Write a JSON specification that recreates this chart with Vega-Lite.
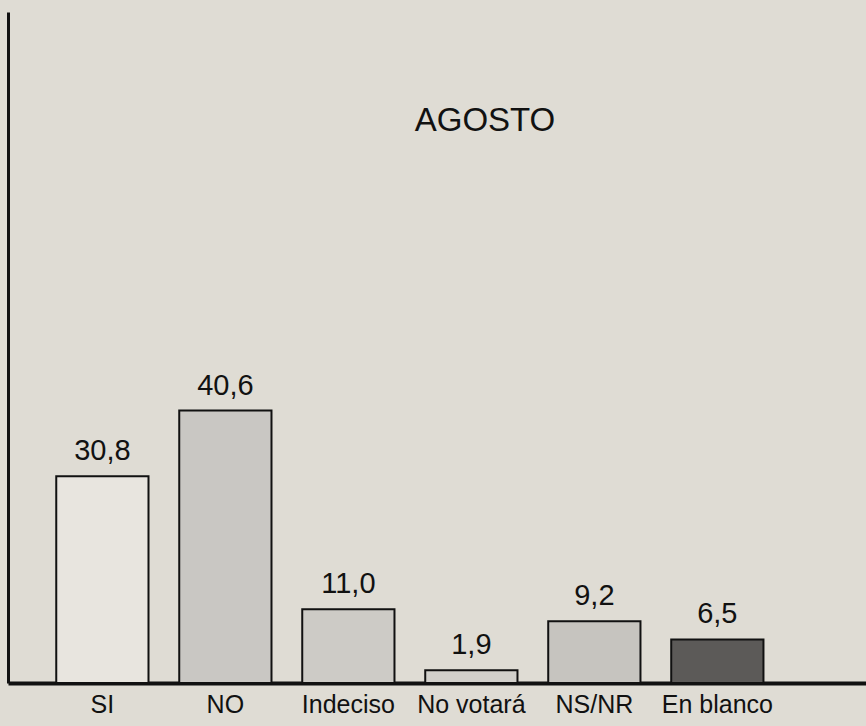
{
  "$schema": "https://vega.github.io/schema/vega-lite/v6.json",
  "autosize": "none",
  "width": 858,
  "height": 671,
  "padding": {"left": 8, "top": 12, "right": 0, "bottom": 43},
  "background": "#dfdcd4",
  "title": {
    "text": "AGOSTO",
    "font": "Liberation Sans",
    "fontSize": 33,
    "fontWeight": "normal",
    "color": "#111111",
    "anchor": "middle",
    "dx": 48,
    "offset": -126,
    "orient": "top"
  },
  "config": {
    "view": {"stroke": null},
    "font": "Liberation Sans"
  },
  "data": {
    "values": [
      {"categoria": "SI", "valor": 30.8, "etiqueta": "30,8"},
      {"categoria": "NO", "valor": 40.6, "etiqueta": "40,6"},
      {"categoria": "Indeciso", "valor": 11.0, "etiqueta": "11,0"},
      {"categoria": "No votará", "valor": 1.9, "etiqueta": "1,9"},
      {"categoria": "NS/NR", "valor": 9.2, "etiqueta": "9,2"},
      {"categoria": "En blanco", "valor": 6.5, "etiqueta": "6,5"}
    ]
  },
  "encoding": {
    "x": {
      "field": "categoria",
      "type": "nominal",
      "sort": null,
      "scale": {"paddingInner": 0.25, "paddingOuter": 0.613, "align": 0.32},
      "axis": {
        "title": null,
        "labelAngle": 0,
        "labelFontSize": 25,
        "labelColor": "#111111",
        "labelPadding": 9,
        "ticks": false,
        "domainColor": "#111111",
        "domainWidth": 4
      }
    },
    "y": {
      "field": "valor",
      "type": "quantitative",
      "scale": {"domain": [0, 100]},
      "axis": {
        "title": null,
        "labels": false,
        "ticks": false,
        "grid": false,
        "domainColor": "#111111",
        "domainWidth": 3
      }
    }
  },
  "layer": [
    {
      "mark": {"type": "bar", "stroke": "#111111", "strokeWidth": 2},
      "encoding": {
        "fill": {
          "field": "categoria",
          "type": "nominal",
          "legend": null,
          "scale": {
            "domain": ["SI", "NO", "Indeciso", "No votará", "NS/NR", "En blanco"],
            "range": ["#e8e5df", "#c9c7c3", "#cdcbc6", "#d2d0cb", "#c6c4bf", "#5c5a58"]
          }
        }
      }
    },
    {
      "mark": {"type": "text", "baseline": "bottom", "dy": -10, "fontSize": 29, "color": "#111111"},
      "encoding": {
        "text": {"field": "etiqueta"}
      }
    }
  ]
}
